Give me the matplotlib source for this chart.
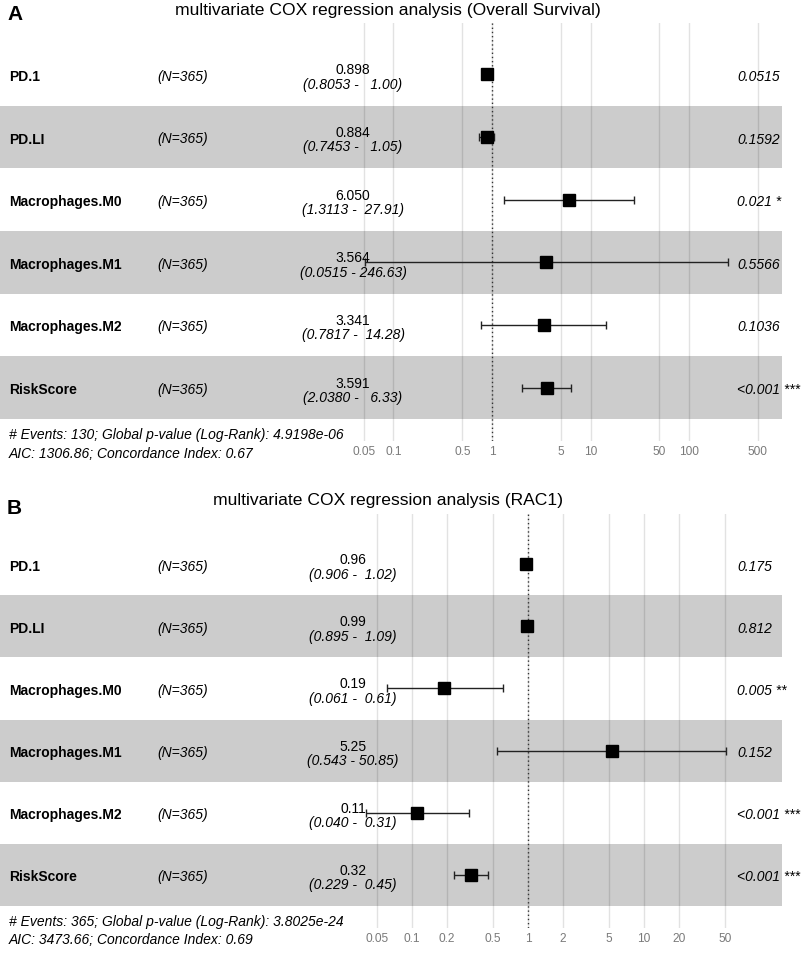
import matplotlib
matplotlib.use("Agg")
import matplotlib.pyplot as plt
import matplotlib.transforms as mtransforms
from matplotlib.ticker import NullLocator

plt.rcParams['font.family'] = ['Liberation Sans', 'DejaVu Sans']

W, H, DPI = 809, 954, 100

# ---------------- data ----------------
variables = ["PD.1", "PD.LI", "Macrophages.M0", "Macrophages.M1", "Macrophages.M2", "RiskScore"]
n_obs = [365, 365, 365, 365, 365, 365]

os_title = "multivariate COX regression analysis (Overall Survival)"
os_hr = [0.898, 0.884, 6.050, 3.564, 3.341, 3.591]
os_lo = [0.8053, 0.7453, 1.3113, 0.0515, 0.7817, 2.0380]
os_hi = [1.00, 1.05, 27.91, 246.63, 14.28, 6.33]
os_p = ["0.0515", "0.1592", "0.021 *", "0.5566", "0.1036", "<0.001 ***"]
os_ticks = [0.05, 0.1, 0.5, 1, 5, 10, 50, 100, 500]
os_tick_labels = ["0.05", "0.1", "0.5", "1", "5", "10", "50", "100", "500"]
os_footer = ["# Events: 130; Global p-value (Log-Rank): 4.9198e-06",
             "AIC: 1306.86; Concordance Index: 0.67"]

rac_title = "multivariate COX regression analysis (RAC1)"
rac_hr = [0.96, 0.99, 0.19, 5.25, 0.11, 0.32]
rac_lo = [0.906, 0.895, 0.061, 0.543, 0.040, 0.229]
rac_hi = [1.02, 1.09, 0.61, 50.85, 0.31, 0.45]
rac_p = ["0.175", "0.812", "0.005 **", "0.152", "<0.001 ***", "<0.001 ***"]
rac_ticks = [0.05, 0.1, 0.2, 0.5, 1, 2, 5, 10, 20, 50]
rac_tick_labels = ["0.05", "0.1", "0.2", "0.5", "1", "2", "5", "10", "20", "50"]
rac_footer = ["# Events: 365; Global p-value (Log-Rank): 3.8025e-24",
              "AIC: 3473.66; Concordance Index: 0.69"]

fig = plt.figure(figsize=(W / DPI, H / DPI), dpi=DPI)

TXT = 10


def fx(px):
    return px / W


def fy(py):
    return 1 - py / H


def panel(label, title, hr, lo, hi, pvals, ticks, tick_labels, footer,
          est_fmt, lo_fmt, hi_fmt, title_y, label_y, grid_top, grid_bot,
          rows_top, rows_bot, x_one, decade, foot_y):
    nrow = len(variables)
    row_h = (rows_bot - rows_top) / nrow
    right_px = 782
    ax = fig.add_axes([0, fy(grid_bot), fx(right_px), (grid_bot - grid_top) / H])
    ax.set_xscale('log')
    ax.set_xlim(10 ** (-x_one / decade), 10 ** ((right_px - x_one) / decade))
    ytop = -0.5 - (rows_top - grid_top) / row_h
    ybot = nrow - 0.5 + (grid_bot - rows_bot) / row_h
    ax.set_ylim(ybot, ytop)
    for s in ax.spines.values():
        s.set_visible(False)
    ax.set_yticks([])
    ax.set_xticks(ticks)
    ax.set_xticklabels(tick_labels)
    ax.xaxis.set_minor_locator(NullLocator())
    ax.tick_params(axis='x', length=0, pad=3, labelsize=8.6, labelcolor='#7a7a7a')

    # grid lines
    for t in ticks:
        ax.axvline(t, color='#e2e2e2', lw=1, zorder=0.5)
    # shaded bands
    for i in range(nrow):
        if i % 2 == 1:
            ax.axhspan(i - 0.5, i + 0.5, color='black', alpha=0.2, lw=0, zorder=1)
    # reference line
    ax.axvline(1, color='#333333', lw=1, ls=(0, (1, 2)), zorder=2)

    ys = list(range(nrow))
    xerr = [[h - l for h, l in zip(hr, lo)], [u - h for h, u in zip(hr, hi)]]
    ax.errorbar(hr, ys, xerr=xerr, fmt='s', ms=9, mfc='black', mec='black',
                ecolor='#222222', elinewidth=1, capsize=2.6, capthick=1, zorder=3)

    tr = mtransforms.blended_transform_factory(fig.transFigure, ax.transData)
    d = 1.0 / row_h
    for i, name in enumerate(variables):
        ax.text(fx(9), i + 1.5 * d, name, transform=tr, ha='left', va='center',
                fontsize=TXT, fontweight='bold', clip_on=False)
        ax.text(fx(157), i + 1.5 * d, f"(N={n_obs[i]})", transform=tr, ha='left',
                va='center', fontsize=TXT, style='italic', clip_on=False)
        ax.text(fx(353), i - 5 * d, est_fmt.format(hr[i]), transform=tr,
                ha='center', va='center', fontsize=TXT, clip_on=False)
        ci = "(" + lo_fmt.format(lo[i]) + " - " + hi_fmt.format(hi[i]) + ")"
        ax.text(fx(353), i + 9.5 * d, ci, transform=tr, ha='center', va='center',
                fontsize=TXT, style='italic', clip_on=False)
        ax.text(fx(737), i + 1.5 * d, pvals[i], transform=tr, ha='left',
                va='center', fontsize=TXT, style='italic', clip_on=False)

    fig.text(fx(388), fy(title_y), title, ha='center', va='center', fontsize=12.6)
    fig.text(fx(7), fy(label_y), label, ha='left', va='center', fontsize=15,
             fontweight='bold')
    fig.text(fx(9), fy(foot_y[0]), footer[0], ha='left', va='center',
             fontsize=TXT, style='italic')
    fig.text(fx(9), fy(foot_y[1]), footer[1], ha='left', va='center',
             fontsize=TXT, style='italic')


panel("A", os_title, os_hr, os_lo, os_hi, os_p, os_ticks, os_tick_labels, os_footer,
      "{:.3f}", "{:.4f}", "{:6.2f}", title_y=10, label_y=15, grid_top=24,
      grid_bot=442, rows_top=44, rows_bot=420, x_one=492, decade=98.5,
      foot_y=(435, 454))

panel("B", rac_title, rac_hr, rac_lo, rac_hi, rac_p, rac_ticks, rac_tick_labels,
      rac_footer, "{:.2f}", "{:.3f}", "{:5.2f}", title_y=501, label_y=509,
      grid_top=515, grid_bot=929, rows_top=534, rows_bot=907, x_one=528,
      decade=116, foot_y=(922, 940))

fig.savefig("out.png", dpi=DPI)
